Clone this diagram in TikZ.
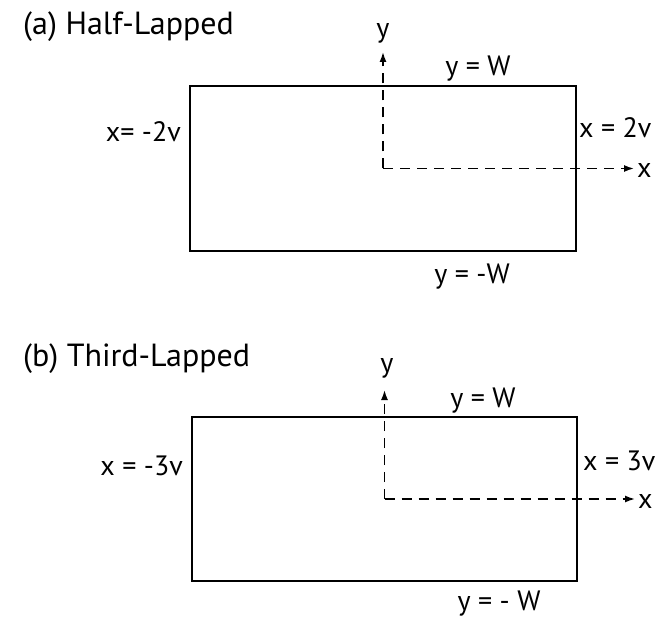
\documentclass[tikz,border=0pt]{standalone}
\usepackage{fontspec}
\setmainfont{PT Sans}
\usetikzlibrary{arrows.meta}
\begin{document}
\begin{tikzpicture}[x=1pt, y=-1pt,
    plate/.style={draw, line width=1.8pt, minimum width=386pt,
                  minimum height=165pt, inner sep=0pt},
    axis/.style={line width=1.5pt, dash pattern=on 10pt off 7pt,
                 -{Latex[length=10pt, width=7pt]}},
    lbl/.style={font=\fontsize{28}{30}\selectfont, inner sep=0pt, anchor=base},
    ttl/.style={lbl, font=\fontsize{32}{34}\selectfont, anchor=base west},
]
\useasboundingbox (0,0) rectangle (671,620);

% Panel (a): half-lapped
\node[ttl] (titleA) at (23,35) {(a) Half-Lapped};
\node[plate] (plateA) at (383,168.5) {};
\coordinate (yTipA) at (383,52);
\coordinate (xTipA) at (634,168.5);
\draw[axis] (plateA.center) -- (yTipA);
\draw[axis] (plateA.center) -- (xTipA);
\node[lbl] (yLabA) at (383,38) {y};
\node[lbl, anchor=base west] (xLabA) at (637,178) {x};
\node[lbl] (topA) at (478,76) {y = W};
\node[lbl] (botA) at (472,283) {y = -W};
\node[lbl, anchor=base east] (leftA) at (181,142) {x= -2v};
\node[lbl, anchor=base west] (rightA) at (579,138) {x = 2v};

% Panel (b): third-lapped
\node[ttl] (titleB) at (23,366) {(b) Third-Lapped};
\node[plate, minimum width=385pt, minimum height=164pt] (plateB) at (384.5,499) {};
\coordinate (yTipB) at (384.5,390);
\coordinate (xTipB) at (635,499);
\draw[axis] (plateB.center) -- (yTipB);
\draw[axis] (plateB.center) -- (xTipB);
\node[lbl] (yLabB) at (387,372) {y};
\node[lbl, anchor=base west] (xLabB) at (638,508) {x};
\node[lbl] (topB) at (483,407) {y = W};
\node[lbl] (botB) at (499,610) {y = - W};
\node[lbl, anchor=base east] (leftB) at (183,475) {x = -3v};
\node[lbl, anchor=base west] (rightB) at (583,470) {x = 3v};
\end{tikzpicture}
\end{document}
